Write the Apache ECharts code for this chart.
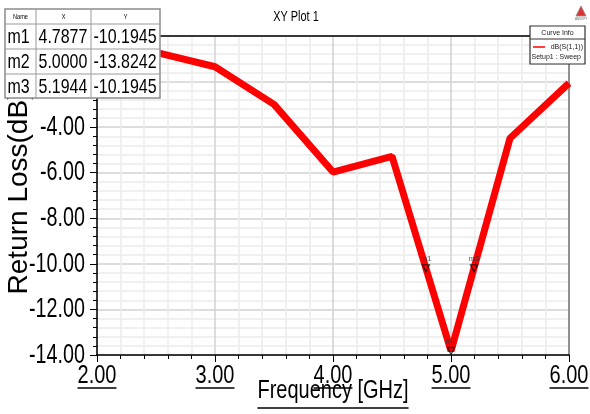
<!DOCTYPE html>
<html>
<head>
<meta charset="utf-8">
<script src="https://cdn.jsdelivr.net/npm/echarts@6/dist/echarts.min.js"></script>
<style>
  html, body { margin: 0; padding: 0; background: #fff; }
  #chart { width: 590px; height: 414px; }
</style>
</head>
<body>
<div id="chart"></div>
<script>
// Swept S11 return loss
var freqGHz = [2.0, 2.5, 3.0, 3.5, 4.0, 4.5, 5.0, 5.5, 6.0];
var returnLossDb = [-0.10, -0.72, -1.35, -3.00, -5.97, -5.28, -13.8242, -4.49, -2.07];

// Markers
var markerNames = ['m1', 'm2', 'm3'];
var markerX = [4.7877, 5.0000, 5.1944];
var markerY = [-10.1945, -13.8242, -10.1945];

// Axis ticks
var xTicks = [2.00, 3.00, 4.00, 5.00, 6.00];
var yTicks = [-14.00, -12.00, -10.00, -8.00, -6.00, -4.00, -2.00, 0.00];

var SANS = '"Liberation Sans", Arial, sans-serif';

var chart = echarts.init(document.getElementById('chart'), null, { renderer: 'canvas' });

var lineData = freqGHz.map(function (f, i) { return [f, returnLossDb[i]]; });
var markerData = markerNames.map(function (n, i) { return { name: n, value: [markerX[i], markerY[i]] }; });

// Condensed text: a regular face squeezed horizontally
function narrowText(str, x, y, size, sx, align, z) {
  return { type: 'text', x: x, y: y, scaleX: sx, z: z || 60,
    style: { text: str, x: 0, y: 0, align: align || 'center', verticalAlign: 'middle',
      font: size + 'px ' + SANS, fill: '#000' } };
}

// Marker table (top-left)
function markerTable() {
  var Z = 100;
  var x0 = 5, y0 = 9;
  var colW = [31, 55, 69];
  var headH = 15, rowH = 25;
  var out = [];
  var totalW = colW[0] + colW[1] + colW[2];
  var totalH = headH + rowH * markerNames.length - 1;
  out.push({ type: 'rect', z: Z, shape: { x: x0, y: y0, width: totalW, height: totalH },
    style: { fill: '#fff', stroke: '#8c8c8c', lineWidth: 1.5 } });
  var cx = x0;
  for (var c = 0; c < colW.length - 1; c++) {
    cx += colW[c];
    out.push({ type: 'line', z: Z + 1, shape: { x1: cx, y1: y0, x2: cx, y2: y0 + totalH },
      style: { stroke: '#9a9a9a', lineWidth: 1 } });
  }
  for (var r = 0; r < markerNames.length; r++) {
    var yy = y0 + headH + r * rowH;
    out.push({ type: 'line', z: Z + 1, shape: { x1: x0, y1: yy, x2: x0 + totalW, y2: yy },
      style: { stroke: '#9a9a9a', lineWidth: 1 } });
  }
  var heads = ['Name', 'X', 'Y'];
  var hx = x0;
  for (var h = 0; h < heads.length; h++) {
    out.push(narrowText(heads[h], hx + colW[h] / 2, y0 + headH / 2 + 0.5, 7, 0.8, 'center', Z + 2));
    hx += colW[h];
  }
  for (var k = 0; k < markerNames.length; k++) {
    var ry = y0 + headH + k * rowH + rowH / 2 + 1;
    var cells = [markerNames[k], markerX[k].toFixed(4), markerY[k].toFixed(4)];
    var tx = x0;
    for (var j = 0; j < cells.length; j++) {
      out.push(narrowText(cells[j], tx + 2.5, ry, 21, 0.76, 'left', Z + 2));
      tx += colW[j];
    }
  }
  return out;
}

// Curve info box (top-right)
function curveInfo() {
  var Z = 100;
  var x0 = 530, y0 = 26, w = 55, h = 38;
  return [
    { type: 'rect', z: Z, shape: { x: x0, y: y0, width: w, height: h }, style: { fill: '#fff', stroke: '#333', lineWidth: 1.2 } },
    { type: 'line', z: Z + 1, shape: { x1: x0, y1: y0 + 13, x2: x0 + w, y2: y0 + 13 }, style: { stroke: '#333', lineWidth: 1 } },
    { type: 'text', z: Z + 2, style: { text: 'Curve Info', x: x0 + w / 2, y: y0 + 7, align: 'center', verticalAlign: 'middle', font: '7px ' + SANS, fill: '#222' } },
    { type: 'line', z: Z + 2, shape: { x1: x0 + 3, y1: y0 + 21, x2: x0 + 15, y2: y0 + 21 }, style: { stroke: '#ff0000', lineWidth: 1.5 } },
    { type: 'text', z: Z + 2, style: { text: 'dB(S(1,1))', x: x0 + w - 2, y: y0 + 21, align: 'right', verticalAlign: 'middle', font: '7px ' + SANS, fill: '#222' } },
    { type: 'text', z: Z + 2, style: { text: 'Setup1 : Sweep', x: x0 + 1.5, y: y0 + 31, align: 'left', verticalAlign: 'middle', font: '7px ' + SANS, fill: '#222' } }
  ];
}

// Small vendor logo
function logo() {
  return [
    { type: 'polygon', z: 100, shape: { points: [[581, 6], [576, 16], [586, 16]] }, style: { fill: '#d33', stroke: '#888', lineWidth: 0.8 } },
    { type: 'text', z: 100, style: { text: 'ANSOFT', x: 581, y: 19, align: 'center', verticalAlign: 'middle', font: '3px ' + SANS, fill: '#666' } }
  ];
}

var option = {
  backgroundColor: '#fff',
  animation: false,
  grid: { left: 97, right: 21, top: 36, bottom: 59, containLabel: false, outerBoundsMode: 'none' },
  xAxis: [{
    type: 'value', min: 2, max: 6, interval: 1,
    axisLine: { show: true, onZero: false, lineStyle: { color: '#000', width: 1.5 } },
    axisTick: { show: true, length: 7, lineStyle: { color: '#000' } },
    minorTick: { show: true, splitNumber: 5, length: 4, lineStyle: { color: '#000' } },
    axisLabel: { show: false },
    splitLine: { show: true, lineStyle: { color: '#d2d2d2', width: 1.5 } },
    minorSplitLine: { show: true, lineStyle: { color: '#ebebeb', width: 1.5 } }
  }, {
    type: 'value', position: 'top', min: 2, max: 6,
    axisLine: { show: true, lineStyle: { color: '#000', width: 1.5 } },
    axisTick: { show: false }, axisLabel: { show: false }, splitLine: { show: false }
  }],
  yAxis: [{
    type: 'value', min: -14, max: 0, interval: 2,
    name: 'Return Loss(dB)', nameLocation: 'middle', nameGap: 64,
    nameTextStyle: { fontFamily: SANS, fontSize: 28, color: '#000', padding: [0, 0, 0, 6] },
    axisLine: { show: true, onZero: false, lineStyle: { color: '#000', width: 1.5 } },
    axisTick: { show: true, length: 7, lineStyle: { color: '#000' } },
    minorTick: { show: true, splitNumber: 5, length: 4, lineStyle: { color: '#000' } },
    axisLabel: { show: false },
    splitLine: { show: true, lineStyle: { color: '#d2d2d2', width: 1.5 } },
    minorSplitLine: { show: true, lineStyle: { color: '#ebebeb', width: 1.5 } }
  }, {
    type: 'value', position: 'right', min: -14, max: 0,
    axisLine: { show: true, lineStyle: { color: '#777', width: 1.5 } },
    axisTick: { show: false }, axisLabel: { show: false }, splitLine: { show: false }
  }],
  series: [{
    name: 'dB(S(1,1))', type: 'line', data: lineData,
    symbol: 'none', lineStyle: { color: '#ff0000', width: 7 }, z: 3
  }, {
    name: 'markers', type: 'scatter', data: markerData,
    symbol: 'triangle', symbolRotate: 180, symbolSize: 7,
    itemStyle: { color: 'rgba(255,255,255,0)', borderColor: '#111', borderWidth: 1.3 },
    label: { show: true, position: 'top', distance: 1, formatter: '{b}',
      fontFamily: SANS, fontSize: 8, color: '#333' },
    z: 5
  }]
};

chart.setOption(option);

// Condensed tick labels, underlined x labels and x axis title, placed through the axes
(function decorate() {
  var g = [];
  var ctx = document.createElement('canvas').getContext('2d');
  var axisBottom = chart.convertToPixel({ yAxisIndex: 0 }, -14);
  var axisTop = chart.convertToPixel({ yAxisIndex: 0 }, 0);
  var axisLeft = chart.convertToPixel({ xAxisIndex: 0 }, 2);
  var axisRight = chart.convertToPixel({ xAxisIndex: 0 }, 6);

  // title
  g.push(narrowText('XY Plot 1', (axisLeft + axisRight) / 2 - 37, axisTop - 19, 14, 0.78, 'center'));

  // y tick labels
  yTicks.forEach(function (t) {
    var py = chart.convertToPixel({ yAxisIndex: 0 }, t);
    g.push(narrowText(t.toFixed(2), axisLeft - 12, py, 28, 0.705, 'right'));
  });

  // x tick labels with underline
  var xs = 25, xsx = 0.8;
  ctx.font = xs + 'px ' + SANS;
  xTicks.forEach(function (t) {
    var px = chart.convertToPixel({ xAxisIndex: 0 }, t);
    var s = t.toFixed(2);
    var w = ctx.measureText(s).width * xsx;
    g.push(narrowText(s, px, axisBottom + 21, xs, xsx, 'center'));
    g.push({ type: 'line', z: 60, shape: { x1: px - w / 2, y1: axisBottom + 33, x2: px + w / 2, y2: axisBottom + 33 },
      style: { stroke: '#000', lineWidth: 1.5 } });
  });

  // x axis title with underline
  var name = 'Frequency [GHz]';
  var mid = (axisLeft + axisRight) / 2;
  var nw = ctx.measureText(name).width * xsx;
  g.push(narrowText(name, mid, axisBottom + 36.5, xs, xsx, 'center'));
  g.push({ type: 'line', z: 60, shape: { x1: mid - nw / 2, y1: axisBottom + 53, x2: mid + nw / 2, y2: axisBottom + 53 },
    style: { stroke: '#000', lineWidth: 1.5 } });

  chart.setOption({ graphic: { elements: g.concat(markerTable(), curveInfo(), logo()) } });
})();
</script>
</body>
</html>
